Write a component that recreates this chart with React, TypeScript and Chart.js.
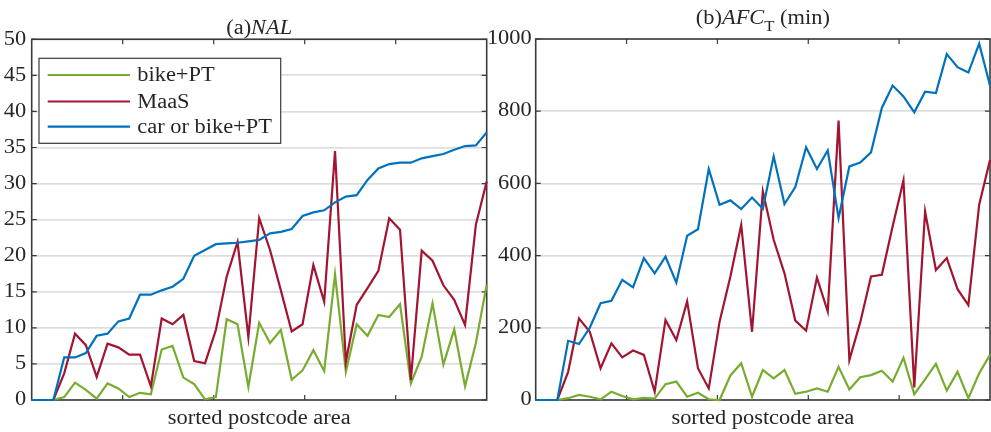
import React, { useEffect, useRef } from "react";
import { Chart, registerables } from "chart.js";

Chart.register(...registerables);

// ---------- data ----------
const seriesNames = ["bike+PT", "MaaS", "car or bike+PT"];
const seriesColors = ["#77AC30", "#A2142F", "#0072BD"];

// (a) NAL, 43 sorted postcode areas
const nalBikePT = [0, 0, 0, 0.4, 2.4, 1.4, 0.2, 2.3, 1.6, 0.4, 1.0, 0.8, 7.0, 7.5, 3.1, 2.2, 0.1, 0.4, 11.2, 10.5, 1.8, 10.7, 7.9, 9.7, 2.8, 4.1, 6.9, 4.0, 17.4, 3.9, 10.5, 8.9, 11.8, 11.5, 13.3, 2.3, 6.0, 13.4, 4.9, 9.8, 1.9, 7.9, 16.0];
const nalMaaS = [0, 0, 0, 3.7, 9.2, 7.6, 3.2, 7.8, 7.3, 6.3, 6.3, 1.9, 11.3, 10.5, 11.8, 5.4, 5.1, 9.7, 17.1, 21.9, 8.7, 25.2, 20.8, 15.2, 9.5, 10.5, 18.7, 13.6, 34.5, 5.3, 13.2, 15.5, 17.9, 25.2, 23.6, 2.8, 20.7, 19.3, 15.9, 13.9, 10.4, 24.3, 30.3];
const nalCarBikePT = [0, 0, 0, 5.9, 5.9, 6.5, 8.9, 9.2, 10.9, 11.3, 14.6, 14.6, 15.2, 15.7, 16.8, 20.0, 20.8, 21.6, 21.7, 21.8, 22.0, 22.2, 23.1, 23.3, 23.7, 25.5, 26.0, 26.3, 27.4, 28.2, 28.4, 30.5, 32.1, 32.7, 32.9, 32.9, 33.5, 33.8, 34.1, 34.7, 35.2, 35.3, 37.1];

// (b) AFC_T (min)
const afcBikePT = [0, 0, 0, 5, 14, 9, 2, 23, 11, 2, 6, 4, 44, 51, 9, 20, 2, 0, 68, 102, 9, 83, 60, 83, 17, 23, 32, 23, 92, 29, 63, 69, 81, 51, 117, 16, 57, 100, 26, 78, 5, 74, 125];
const afcMaaS = [0, 0, 0, 78, 226, 189, 88, 157, 118, 137, 125, 23, 222, 166, 273, 88, 32, 217, 342, 485, 189, 578, 444, 351, 220, 192, 339, 245, 774, 111, 215, 342, 347, 481, 608, 35, 522, 360, 393, 307, 263, 541, 665];
const afcCarBikePT = [0, 0, 0, 164, 155, 200, 268, 275, 333, 312, 393, 351, 397, 325, 455, 473, 640, 541, 553, 529, 561, 530, 675, 543, 590, 700, 640, 691, 504, 647, 658, 686, 809, 871, 841, 797, 854, 850, 958, 922, 907, 987, 871];

const nalYTicks = [0, 5, 10, 15, 20, 25, 30, 35, 40, 45, 50];
const afcYTicks = [0, 200, 400, 600, 800, 1000];
const xTickPositions = [8.4, 16.8, 25.2, 33.6];
const xLabel = "sorted postcode area";

// ---------- style ----------
const H = 432;
const FONT_FAMILY = "'Liberation Serif', 'Times New Roman', serif";
const FONT_SIZE = 20;
const SX = 1.12;
const TEXT = "#262626";
const AXIS = "#3a3a3a";
const GRID = "#dedede";

type Part = { text: string; italic?: boolean; sub?: boolean };

function fontFor(p: Part) {
  const size = p.sub ? 15 : FONT_SIZE;
  return `${p.italic ? "italic " : ""}${size}px ${FONT_FAMILY}`;
}

function drawStretched(ctx: CanvasRenderingContext2D, text: string, x: number, y: number, font: string, align: CanvasTextAlign, baseline: CanvasTextBaseline) {
  ctx.save();
  ctx.translate(x, y);
  ctx.scale(SX, 1);
  ctx.font = font;
  ctx.textAlign = align;
  ctx.textBaseline = baseline;
  ctx.fillText(text, 0, 0);
  ctx.restore();
}

function drawParts(ctx: CanvasRenderingContext2D, parts: Part[], cx: number, baseY: number) {
  ctx.save();
  const widths = parts.map((p) => {
    ctx.font = fontFor(p);
    return ctx.measureText(p.text).width * SX;
  });
  const total = widths.reduce((a, b) => a + b, 0);
  let x = cx - total / 2;
  parts.forEach((p, i) => {
    drawStretched(ctx, p.text, x, baseY + (p.sub ? 7 : 0), fontFor(p), "left", "alphabetic");
    x += widths[i];
  });
  ctx.restore();
}

type PanelProps = {
  left: number;
  width: number;
  yAxisWidth: number;
  padRight: number;
  padTop: number;
  labelPad: number;
  yMax: number;
  yTicks: number[];
  series: number[][];
  title: Part[];
  titleY: number;
  legend: boolean;
};

function Panel(props: PanelProps) {
  const ref = useRef<HTMLCanvasElement>(null);
  useEffect(() => {
    const canvas = ref.current;
    if (!canvas) return;
    const decor = {
      id: "decor",
      beforeDatasetsDraw(chart: any) {
        const { ctx, chartArea: a, scales } = chart;
        ctx.save();
        ctx.strokeStyle = AXIS;
        ctx.lineWidth = 1.6;
        ctx.strokeRect(a.left, a.top, a.right - a.left, a.bottom - a.top);
        ctx.lineWidth = 1.2;
        ctx.beginPath();
        xTickPositions.forEach((v) => {
          const px = scales.x.getPixelForValue(v);
          ctx.moveTo(px, a.top);
          ctx.lineTo(px, a.top + 5);
          ctx.moveTo(px, a.bottom);
          ctx.lineTo(px, a.bottom - 5);
        });
        props.yTicks.forEach((v) => {
          const py = scales.y.getPixelForValue(v);
          ctx.moveTo(a.left, py);
          ctx.lineTo(a.left + 5, py);
          ctx.moveTo(a.right, py);
          ctx.lineTo(a.right - 5, py);
        });
        ctx.stroke();
        ctx.restore();
      },
      afterDraw(chart: any) {
        const { ctx, chartArea: a, scales } = chart;
        ctx.save();
        ctx.fillStyle = TEXT;
        const font = `${FONT_SIZE}px ${FONT_FAMILY}`;
        props.yTicks.forEach((v) => {
          const py = scales.y.getPixelForValue(v);
          drawStretched(ctx, String(v), a.left - props.labelPad, py, font, "right", "middle");
        });
        const cx = (a.left + a.right) / 2;
        drawParts(ctx, props.title, cx, props.titleY);
        drawStretched(ctx, xLabel, cx, 424, font, "center", "alphabetic");
        if (props.legend) {
          const bx = 39, by = 58.3, bw = 241.7, bh = 85;
          ctx.fillStyle = "#ffffff";
          ctx.fillRect(bx, by, bw, bh);
          ctx.strokeStyle = AXIS;
          ctx.lineWidth = 1.2;
          ctx.strokeRect(bx, by, bw, bh);
          const rows = [75, 101.5, 126.7];
          seriesNames.forEach((name, k) => {
            ctx.strokeStyle = seriesColors[k];
            ctx.lineWidth = 2.2;
            ctx.beginPath();
            ctx.moveTo(47.7, rows[k]);
            ctx.lineTo(130, rows[k]);
            ctx.stroke();
            ctx.fillStyle = TEXT;
            drawStretched(ctx, name, 137.3, rows[k] + 1, font, "left", "middle");
          });
        }
        ctx.restore();
      },
    };

    const chart = new Chart(canvas, {
      type: "line",
      data: {
        datasets: props.series.map((vals, k) => ({
          label: seriesNames[k],
          data: vals.map((v, i) => ({ x: i, y: v })),
          borderColor: seriesColors[k],
          backgroundColor: seriesColors[k],
          borderWidth: 2.2,
          pointRadius: 0,
          fill: false,
          tension: 0,
          clip: false as any,
          order: 3 - k,
        })),
      },
      options: {
        animation: false,
        responsive: false,
        maintainAspectRatio: false,
        devicePixelRatio: 1,
        events: [],
        layout: { padding: { left: 0, right: props.padRight, top: props.padTop, bottom: 0 } },
        plugins: { legend: { display: false }, tooltip: { enabled: false }, title: { display: false } },
        scales: {
          x: {
            type: "linear",
            min: 0,
            max: 42,
            grid: { display: false, drawTicks: false },
            border: { display: false },
            ticks: { display: false },
            afterBuildTicks: (s: any) => {
              s.ticks = xTickPositions.map((v) => ({ value: v }));
            },
            afterFit: (s: any) => {
              s.height = 32;
            },
          },
          y: {
            type: "linear",
            min: 0,
            max: props.yMax,
            ticks: { display: false, stepSize: props.yTicks[1] - props.yTicks[0] },
            grid: { color: GRID, lineWidth: 1.8, drawTicks: false },
            border: { display: false },
            afterFit: (s: any) => {
              s.width = props.yAxisWidth;
            },
          },
        },
      },
      plugins: [decor],
    } as any);
    return () => chart.destroy();
  }, []);
  return (
    <canvas
      ref={ref}
      width={props.width}
      height={H}
      style={{ position: "absolute", left: props.left, top: 0, width: props.width, height: H }}
    />
  );
}

export default function App() {
  return (
    <div style={{ position: "absolute", left: 0, top: 0, width: 991, height: H, background: "#ffffff", overflow: "hidden" }}>
      <Panel
        left={0}
        width={495}
        yAxisWidth={31.7}
        padRight={8.3}
        padTop={39.3}
        labelPad={5.5}
        yMax={50}
        yTicks={nalYTicks}
        series={[nalBikePT, nalMaaS, nalCarBikePT]}
        title={[{ text: "(a)" }, { text: "NAL", italic: true }]}
        titleY={34}
        legend={true}
      />
      <Panel
        left={480}
        width={511}
        yAxisWidth={55.7}
        padRight={1}
        padTop={39}
        labelPad={4}
        yMax={1000}
        yTicks={afcYTicks}
        series={[afcBikePT, afcMaaS, afcCarBikePT]}
        title={[{ text: "(b)" }, { text: "AFC", italic: true }, { text: "T", sub: true }, { text: " (min)" }]}
        titleY={24}
        legend={false}
      />
    </div>
  );
}
